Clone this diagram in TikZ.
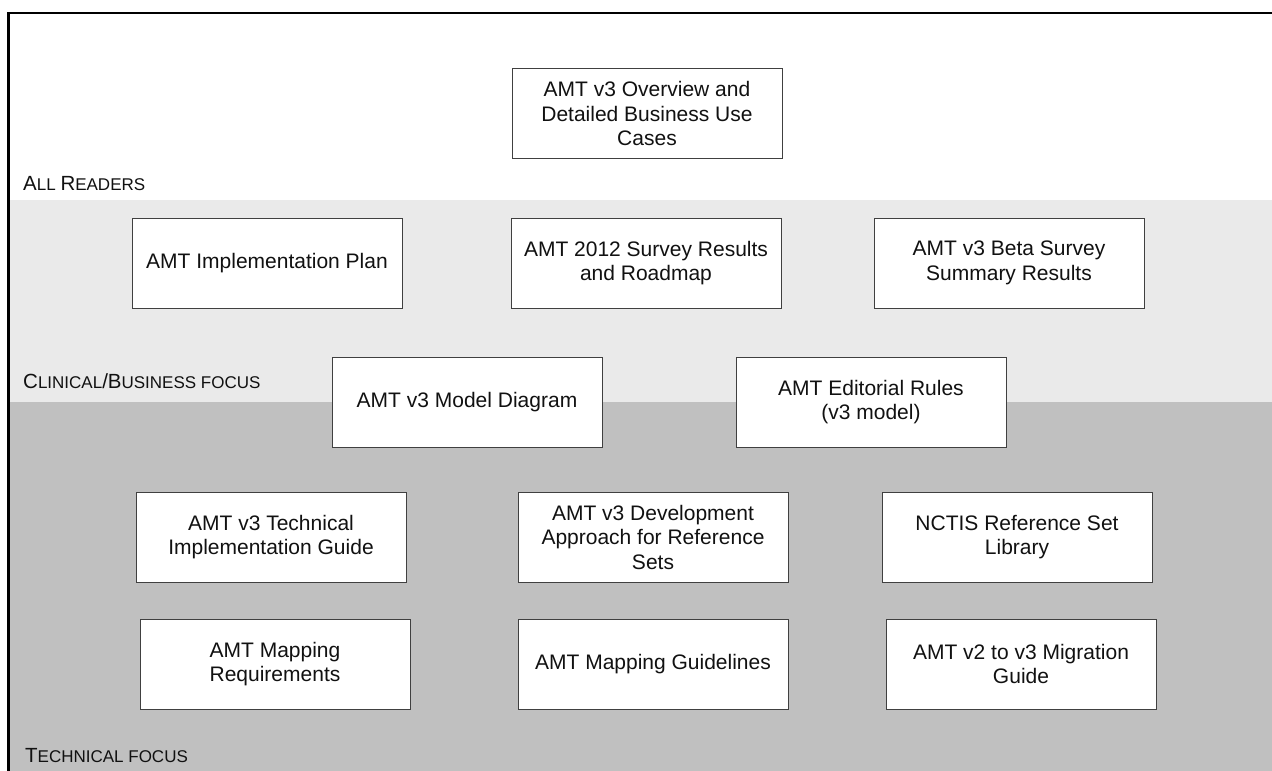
\documentclass[tikz,border=0pt]{standalone}
\usepackage{fontspec}
\setmainfont{Liberation Sans}
% faked small capitals for the band captions
\newcommand\capsmall[1]{{\fontsize{17}{20}\selectfont #1}}
\definecolor{bandlight}{HTML}{EAEAEA}
\definecolor{banddark}{HTML}{C0C0C0}
\definecolor{boxline}{HTML}{404040}
\definecolor{ink}{HTML}{111111}
\begin{document}
\begin{tikzpicture}[x=1pt,y=-1pt,
  docbox/.style={draw=boxline, line width=1pt, fill=white, text=ink,
    minimum width=270pt, minimum height=90pt, inner sep=2pt,
    align=center, font=\fontsize{21}{24.5}\selectfont},
  bandlabel/.style={anchor=base west, inner sep=0pt, text=ink,
    font=\fontsize{20.5}{24}\selectfont}]
\useasboundingbox (0,0) rectangle (1272,771);
\fill[white] (0,0) rectangle (1272,771);

% reader bands
\fill[bandlight] (8.5,200) rectangle (1272,402);
\fill[banddark]  (8.5,402) rectangle (1272,771);

% frame
\draw[line width=2.6pt, line cap=rect] (8.5,771) -- (8.5,13) -- (1272,13);

% band captions
\node[bandlabel] (lblall)  at (23,190) {A\capsmall{LL }R\capsmall{EADERS}};
\node[bandlabel] (lblclin) at (23,388) {C\capsmall{LINICAL}/B\capsmall{USINESS FOCUS}};
\node[bandlabel] (lbltech) at (25,762) {T\capsmall{ECHNICAL FOCUS}};

% documents
\node[docbox] (overview)    at (647,113.5) {AMT v3 Overview and\\Detailed Business Use\\Cases};
\node[docbox] (implplan)    at (267,263)   {AMT Implementation Plan};
\node[docbox] (survey)      at (646,263)   {AMT 2012 Survey Results\\and Roadmap};
\node[docbox] (beta)        at (1009,263)  {AMT v3 Beta Survey\\Summary Results};
\node[docbox] (model)       at (467,402)   {AMT v3 Model Diagram};
\node[docbox] (editorial)   at (871,402)   {AMT Editorial Rules\\(v3 model)};
\node[docbox] (techguide)   at (271,537)   {AMT v3 Technical\\Implementation Guide};
\node[docbox] (devapproach) at (653,537)   {AMT v3 Development\\Approach for Reference\\Sets};
\node[docbox] (nctis)       at (1017,537)  {NCTIS Reference Set\\Library};
\node[docbox] (mapreq)      at (275,664)   {AMT Mapping\\Requirements};
\node[docbox] (mapguide)    at (653,664)   {AMT Mapping Guidelines};
\node[docbox] (migration)   at (1021,664)  {AMT v2 to v3 Migration\\Guide};
\end{tikzpicture}
\end{document}
